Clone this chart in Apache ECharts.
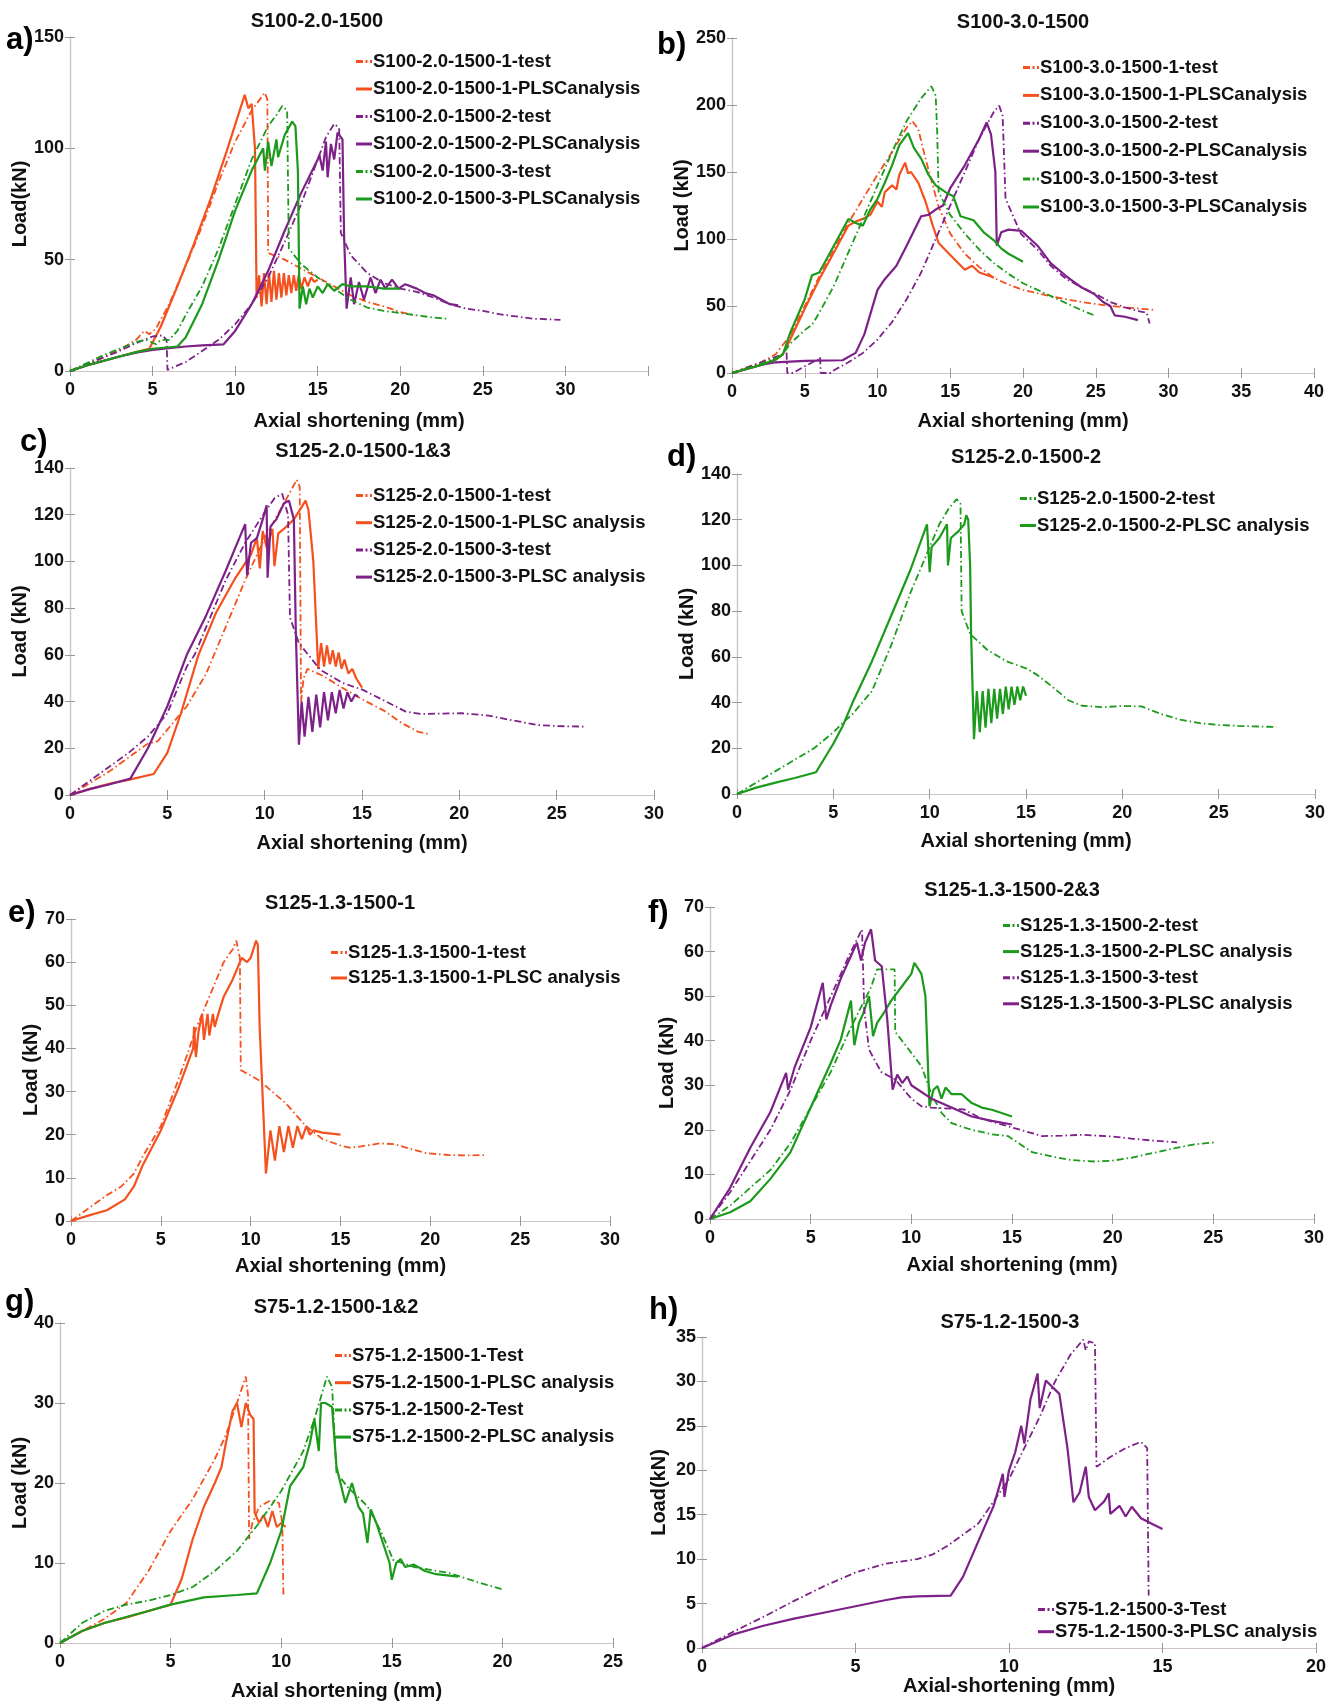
<!DOCTYPE html>
<html>
<head>
<meta charset="utf-8">
<script src="https://cdn.jsdelivr.net/npm/echarts@6/dist/echarts.min.js"></script>
<style>
  html, body { margin: 0; padding: 0; background: #fff; }
  #main { width: 1341px; height: 1707px; }
</style>
</head>
<body>
<div id="main"></div>
<script>
// ---- data: [axial shortening (mm), load (kN)] ----
// a) S100-2.0-1500
const aTest1 = [[0,0],[1,3],[2,6],[3,9.5],[4,14],[4.5,18],[4.8,16.5],[5.2,19],[6,30],[7,47],[8,65],[9,85],[10,103],[11,117],[11.5,122],[11.8,125],[11.95,122],[12.0,53],[13,50],[14,46],[15,42],[16,38],[17,34],[18,31],[19,29],[20,26.5],[20.9,25]];
const aFea1 = [[0,0],[1,2.5],[2,4.5],[3,6.5],[4,8.5],[4.8,10],[5.5,20],[6.5,38],[7.5,57],[8.5,77],[9.5,99],[10.58,124],[10.8,118],[11.0,120],[11.2,100],[11.3,33],[11.45,43],[11.6,29],[11.75,44],[11.9,30],[12.05,44],[12.2,31],[12.35,45],[12.5,32],[12.65,44],[12.8,33],[12.95,44],[13.1,34],[13.25,43],[13.4,35],[13.55,43],[13.7,36],[13.85,43],[14.0,37],[14.2,42],[14.4,38],[14.6,42],[14.8,40],[15,41]];
const aTest2 = [[0,0],[1,3],[2,6],[3,9],[4,12.5],[5,15.5],[5.6,16],[5.85,14],[5.9,0.5],[6,0],[7,4],[8,9],[9,14],[10,21],[11,30],[12,42],[13,58],[14,75],[15,95],[15.5,105],[16,111],[16.3,109],[16.4,62],[17,52],[18,44],[19,39.5],[20,37],[21,35.5],[22,33],[23,30],[24,28],[25,27],[26,25.5],[27,24.5],[28,23.5],[29.7,23]];
const aFea2 = [[0,0],[1,2.5],[2,4.5],[3,6.5],[4,8.2],[5,9.5],[6,10.3],[7,11],[8,11.5],[9.3,12],[10,18],[11,30],[12,45],[13,63],[14,80],[15,95],[15.1,97],[15.3,90],[15.5,103],[15.6,87],[15.8,102],[16.0,95],[16.2,107],[16.5,104],[16.6,60],[16.75,28],[17.0,42],[17.2,30],[17.5,40],[17.8,32],[18.2,42],[18.5,35],[18.8,41],[19.1,37],[19.5,41],[19.9,37],[20.3,39],[21,37],[21.5,35],[22,34],[22.5,32],[23,30],[23.5,29.5]];
const aTest3 = [[0,0],[1,3.5],[2,7],[3,10],[4,13],[4.6,14],[5.2,12],[5.5,14],[6,14],[6.5,18],[7,25],[8,38],[9,55],[10,75],[11,95],[12,110],[12.5,115],[12.85,119],[13.15,117],[13.25,55],[14,48],[15,42],[16,37],[17,32],[18,28.5],[19,27],[20,26],[21,25],[22,24],[22.8,23.5]];
const aFea3 = [[0,0],[1,2.5],[2,4.5],[3,6.5],[4,8.5],[5,10],[6.5,11],[7,15],[8,30],[9,50],[10,72],[11,90],[11.7,100],[11.8,90],[12.0,103],[12.2,92],[12.5,104],[12.6,96],[13.0,106],[13.45,112],[13.65,110],[13.8,90],[13.9,28],[14.1,38],[14.3,30],[14.5,37],[14.7,33],[15,38],[15.3,35],[15.6,39],[16,36],[16.5,39],[17,38],[18,38],[19,37],[20,37]];

// b) S100-3.0-1500
const bTest1 = [[0,0],[1,4],[2,8],[3,14],[4,28],[5,50],[6,72],[7,92],[8,112],[9,130],[10,148],[11,165],[12,183],[12.4,188],[12.8,182],[13.3,160],[14.2,124],[15,104],[16,89],[17,79],[18,71],[19,66],[20,62],[22,57],[24,53],[26,50],[28,48],[29.1,47]];
const bFea1 = [[0,0],[1,3],[2,6],[3,10],[3.5,14],[4,25],[5,48],[6,70],[7,90],[8,110],[8.5,113],[9,115],[9.5,118],[10,128],[10.3,124],[10.5,135],[11,140],[11.3,137],[11.5,148],[11.9,157],[12.1,149],[12.3,150],[12.8,142],[13.3,128],[13.8,110],[14.2,97],[15,88],[16,77],[16.5,80],[17,75],[17.8,72],[18,71]];
const bTest2 = [[0,0],[1,4],[2,8],[3,12],[3.75,15],[3.8,0],[4.2,0],[5,5],[5.9,10],[6.05,12],[6.1,0],[6.8,0],[7,2],[8,8],[9,15],[10,25],[11,38],[12,55],[13,75],[14,100],[15,125],[16,150],[17,175],[18,195],[18.36,199.5],[18.6,192],[18.8,130],[19.85,104],[21,92],[21.9,80],[23,70],[24,64],[24.9,59.5],[26,53],[27,49],[28,46],[28.5,45],[28.7,37]];
const bFea2 = [[0,0],[1,3],[2,6],[3,8],[5,9],[7.6,9.5],[8.5,15],[9.1,29],[10,62],[10.5,70],[10.9,75],[11.3,80],[12,95],[13,117],[13.5,118],[14,122],[14.5,125],[15,138],[16,155],[17,175],[17.5,187],[17.8,178],[18.1,150],[18.2,95],[18.5,105],[19,107],[19.9,106],[20.5,100],[21,95],[21.9,82],[23,72],[24,64],[24.9,59],[25.5,53],[26,50],[26.3,43],[27,42],[27.9,39.5]];
const bTest3 = [[0,0],[1,3.5],[2,7],[3,11],[3.5,14],[4,22],[5,32],[5.5,36],[6,45],[7,65],[8,90],[9,115],[10,140],[11,165],[12,188],[13,205],[13.7,214],[14.0,207],[14.1,180],[14.2,135],[15,118],[16,104],[17,92],[18,82],[19,74],[20,67],[21,62],[22,57],[23,52],[24,47],[24.9,43]];
const bFea3 = [[0,0],[1,3],[2,6],[3,10],[3.5,14],[4,30],[5,55],[5.5,73],[6,75],[7,95],[8,115],[8.5,112],[9,110],[9.5,122],[10,130],[10.5,142],[11,155],[11.5,170],[12.1,179],[12.5,168],[13,160],[13.5,148],[14,140],[14.8,134],[15.2,132],[15.7,117],[16.6,114],[17.3,105],[18,99],[18.5,93],[19,89],[20,83]];

// c) S125-2.0-1500-1&3
const cTest1 = [[0,0],[1,5],[2,10],[3,16],[4,22],[4.5,23],[5,28],[6,38],[7,52],[8,72],[9,92],[10,110],[11,125],[11.65,135],[11.8,132],[11.87,40],[12.0,50],[12.2,54],[13,51],[13.96,46],[15,41],[16.15,36],[17,31],[17.9,27],[18.5,26]];
const cFea1 = [[0,0],[1,2.5],[2,4.8],[3,6.5],[4.3,9],[5,18],[5.7,35],[6.6,60],[7.5,78],[8.5,93],[9.3,103],[9.6,110],[9.75,97],[9.9,113],[10.1,106],[10.4,114],[10.5,98],[10.7,112],[11,114],[11.5,118],[11.8,122],[12.1,126],[12.25,122],[12.5,100],[12.75,54],[12.9,65],[13.05,55],[13.2,64],[13.35,56],[13.5,62],[13.65,55],[13.8,61],[13.95,54],[14.1,58],[14.3,52],[14.5,54],[14.7,50],[15,46]];
const cTest3 = [[0,0],[1,6],[2,12],[3,18],[4,25],[5,35],[6,55],[6.4,60],[7,72],[8,92],[9,108],[10,121],[10.5,127],[10.9,129],[11.2,120],[11.3,76],[11.76,65],[12.86,53.6],[14,48],[15.05,45],[16,41],[17.25,35.7],[18,34.7],[20.1,35],[21.5,34],[22.7,32],[24,30],[25,29.5],[26.4,29.3]];
const cFea3 = [[0,0],[1,2.5],[2,4.5],[3.1,7],[4,20],[5,38],[6,60],[7,77],[8,96],[8.8,112],[9.0,116],[9.1,94],[9.3,108],[9.6,110],[9.9,118],[10.1,124],[10.15,93],[10.3,115],[10.6,118],[11,125],[11.25,126],[11.5,118],[11.6,70],[11.76,21.5],[11.9,40],[12.05,25],[12.25,42],[12.45,27],[12.65,43],[12.85,29],[13.05,44],[13.25,32],[13.45,44],[13.65,35],[13.85,45],[14.05,37],[14.25,44],[14.45,40],[14.65,43],[14.8,42]];

// d) S125-2.0-1500-2
const dTest2 = [[0,0],[1,5],[2,10],[3,15],[4,20],[5,27],[5.6,32],[6,35],[7,45],[8,65],[9,88],[10,108],[10.5,118],[11,125],[11.4,129],[11.6,127],[11.66,80],[12.1,70],[13,63],[14,58],[15,55],[15.6,52],[16.5,46],[17.2,41],[17.9,38.6],[19,38],[20,38.5],[21,38.3],[22,35],[23,32.5],[24,31],[25,30.2],[26,29.8],[28,29.3]];
const dFea2 = [[0,0],[1,2.8],[2,5],[3,7],[4.1,9.5],[5,22],[5.5,30],[6,40],[7,58],[8,78],[9,98],[9.86,118],[10.0,97],[10.1,108],[10.5,112],[10.9,118],[10.95,100],[11.1,112],[11.5,115],[11.8,118],[11.9,122],[12.0,120],[12.1,100],[12.15,70],[12.3,24],[12.45,45],[12.6,27],[12.75,45],[12.9,29],[13.05,46],[13.2,31],[13.35,46],[13.5,33],[13.65,46],[13.8,35],[13.95,47],[14.1,37],[14.25,47],[14.4,39],[14.55,47],[14.7,41],[14.85,47],[15,43]];

// e) S125-1.3-1500-1
const eTest1 = [[0,0],[1,3],[2,6],[2.8,8],[3.5,11],[4,15],[5,22],[6,33],[7,45],[8,55],[8.5,60],[9,63],[9.2,65],[9.4,61],[9.45,35],[10.5,32.5],[11.95,27.3],[13.1,21.9],[14,19],[15,17.5],[15.5,17],[16,17.2],[17.2,18],[18,17.8],[19,16.6],[19.8,15.7],[21,15.3],[22,15.2],[23.1,15.3]];
const eFea1 = [[0,0],[1,1.3],[2,2.5],[3,5],[3.5,8],[4,13],[5,21],[6,31],[6.8,40],[6.85,45],[6.95,38],[7.1,44],[7.3,48],[7.4,42],[7.6,48],[7.7,43],[7.9,48],[8.0,45],[8.2,48],[8.5,52],[9,56],[9.5,61],[9.8,60],[10,61],[10.3,65],[10.4,64],[10.5,45],[10.85,11],[11.1,21],[11.35,14],[11.6,22],[11.85,16],[12.1,22],[12.35,17],[12.6,22],[12.85,19],[13.1,22],[13.3,20],[13.5,21],[14,20.5],[15,20]];

// f) S125-1.3-1500-2&3
const fTest2 = [[0,0],[1,3],[2,7],[3,11],[4,17],[5,25],[6,33],[7,43],[8,52],[8.3,56],[9.17,56],[9.2,42],[10.5,34.3],[11,28],[11.5,23.8],[12,21.5],[13,20],[14,19],[14.8,18.6],[16,15],[17,14],[18,13.2],[19.1,12.9],[20,13.1],[21,13.8],[22,14.8],[23,15.8],[24,16.7],[25.1,17.2]];
const fFea2 = [[0,0],[1,1.5],[2,4],[3,9],[4,15],[5,25],[6,35],[6.5,40.3],[7.0,49],[7.17,39],[7.4,44],[7.6,46],[7.9,50],[8.1,41],[8.3,44],[8.6,46],[9,49],[9.5,52],[10,55],[10.15,57.5],[10.5,55],[10.7,50],[10.9,25.3],[11.1,29],[11.3,29.8],[11.5,27],[11.7,29.5],[12,28],[12.5,28],[13,26],[13.5,25],[14,24.5],[15,23]];
const fTest3 = [[0,0],[1,6],[2,13],[3,20],[4,29],[5,40],[6,50],[7,60],[7.55,65],[7.66,47],[7.9,38],[8.5,33],[9.2,31.3],[10,27],[10.5,25.3],[11,25],[12.6,24.6],[13.5,22.5],[14.8,20.8],[16.5,18.6],[17.5,18.7],[18.5,18.9],[20,18.5],[21,18],[22,17.6],[23.2,17.2]];
const fFea3 = [[0,0],[1,7],[2,16],[3,24],[3.78,32.8],[3.88,29],[4.2,34],[5,43],[5.6,53],[5.78,44.8],[6,48],[6.5,54],[7,59],[7.3,62],[7.5,58],[7.7,62],[8.0,65],[8.2,58],[8.53,56.7],[8.8,45],[9.07,29],[9.3,32.4],[9.55,30.5],[9.8,32],[10,30],[11,27],[12,25],[13,23],[14,22],[15,21.2]];

// g) S75-1.2-1500-1&2
const gTest1 = [[0,0],[1,1.5],[2,3],[3,5],[4,9],[5,14],[6,18],[7,23],[7.5,26],[8,30],[8.4,33.3],[8.5,31],[8.55,13],[8.7,15],[9,17],[9.5,17.8],[9.9,17.5],[10.05,15],[10.1,6]];
const gFea1 = [[0,0],[1,1.5],[2,2.5],[3,3.2],[4,4],[5,4.8],[5.5,8],[6,13],[6.5,17],[7,20],[7.3,22],[7.5,25],[7.8,29],[8,30],[8.2,27],[8.4,30],[8.6,28.5],[8.75,28],[8.8,16.3],[9,15],[9.2,16],[9.4,14.5],[9.6,16.5],[9.8,14.5],[10,15],[10.2,14.5]];
const gTest2 = [[0,0],[1,2.5],[2,4],[3,4.8],[4,5.3],[5,6],[6,7],[7,9],[8,11.5],[9,15],[10,19],[11,24],[11.5,28],[12.07,33.3],[12.3,32],[12.5,21.3],[13,19.5],[13.9,17.1],[14.5,14],[15.06,10.4],[16,9.5],[17.6,8.75],[19,7.5],[20,6.7]];
const gFea2 = [[0,0],[1,1.5],[2,2.5],[4,4],[5,4.8],[6.5,5.7],[8,6],[8.9,6.2],[9.5,10],[10,14],[10.4,19.6],[11,22],[11.3,25],[11.5,28],[11.7,24],[11.8,30],[12,30],[12.3,29.5],[12.5,22],[12.9,17.5],[13.2,20],[13.5,17],[13.7,16.2],[13.9,12.5],[14.05,16.7],[14.3,15],[14.6,12.5],[14.9,10],[15,7.9],[15.2,10],[15.4,10.5],[15.6,9.5],[16,9.8],[16.5,9],[17,8.6],[18,8.3]];

// h) S75-1.2-1500-3
const hTest3 = [[0,0],[1,1.8],[2,3.5],[3,5.3],[4,7],[5,8.5],[6,9.5],[7,10],[7.5,10.5],[8,11.5],[9,14],[10,19],[11,26],[11.5,30],[12,33],[12.42,34.7],[12.5,33.5],[12.6,34.5],[12.8,34.3],[12.85,20.4],[13.3,21.5],[13.8,22.5],[14.3,23.2],[14.5,22.5],[14.55,5.9]];
const hFea3 = [[0,0],[1,1.5],[2,2.5],[3,3.3],[4,4],[5,4.7],[6,5.4],[6.5,5.7],[7,5.8],[8.1,5.9],[8.5,8],[9,12],[9.5,16],[9.8,19.6],[9.85,17],[10,20],[10.2,22],[10.4,25],[10.5,23],[10.7,28],[10.93,30.9],[11,27],[11.2,30.1],[11.64,28.6],[11.9,22.6],[12.1,16.4],[12.3,17.5],[12.5,20.4],[12.6,17],[12.8,15.5],[13.1,16.5],[13.25,17.4],[13.3,15.1],[13.6,16],[13.8,14.8],[14,15.9],[14.3,14.6],[14.7,13.9],[15,13.4]];

// ---- styling ----
const FONT = "'Liberation Sans', Arial, sans-serif";
const ORANGE = '#f4511e', GREEN = '#1b9a1b', PURPLE = '#7d2189';
const DASHDOT = [7, 3, 1.5, 3];
const BOX = '#cfc3c3';
// legend samples drawn as little paths (solid bar / dash-dot)
const ICON_SOLID = 'path://M0,0H16V3H0Z';
const ICON_DASHDOT = 'path://M0,0H7V3H0Z M9.5,0H11.5V3H9.5Z M14,0H16V3H14Z';

function s(name, data, color, test) {
  return { name, data, color, test };
}

// box = [left, top, right, bottom] in px
const panels = [
  { box: [70, 37, 648, 371], x: [0, 35, 5], hideX: 35, y: [0, 150, 50], yName: 'Load(kN)', yGap: 38, xName: 'Axial shortening (mm)', xGap: 40,
    title: 'S100-2.0-1500', tPos: [317, 21], letter: 'a)', lPos: [6, 40], leg: [356, 52, 27],
    lines: [s('S100-2.0-1500-1-test', aTest1, ORANGE, true), s('S100-2.0-1500-1-PLSCanalysis', aFea1, ORANGE),
            s('S100-2.0-1500-2-test', aTest2, PURPLE, true), s('S100-2.0-1500-2-PLSCanalysis', aFea2, PURPLE),
            s('S100-2.0-1500-3-test', aTest3, GREEN, true), s('S100-2.0-1500-3-PLSCanalysis', aFea3, GREEN)] },
  { box: [732, 38, 1314, 373], x: [0, 40, 5], y: [0, 250, 50], yName: 'Load (kN)', yGap: 39, xName: 'Axial shortening (mm)', xGap: 38,
    title: 'S100-3.0-1500', tPos: [1023, 22], letter: 'b)', lPos: [657, 45], leg: [1023, 58, 27.4],
    lines: [s('S100-3.0-1500-1-test', bTest1, ORANGE, true), s('S100-3.0-1500-1-PLSCanalysis', bFea1, ORANGE),
            s('S100-3.0-1500-2-test', bTest2, PURPLE, true), s('S100-3.0-1500-2-PLSCanalysis', bFea2, PURPLE),
            s('S100-3.0-1500-3-test', bTest3, GREEN, true), s('S100-3.0-1500-3-PLSCanalysis', bFea3, GREEN)] },
  { box: [70, 468, 654, 795], x: [0, 30, 5], y: [0, 140, 20], yName: 'Load (kN)', yGap: 40, xName: 'Axial shortening (mm)', xGap: 38,
    title: 'S125-2.0-1500-1&3', tPos: [363, 451], letter: 'c)', lPos: [20, 442], leg: [356, 486, 26.7],
    lines: [s('S125-2.0-1500-1-test', cTest1, ORANGE, true), s('S125-2.0-1500-1-PLSC analysis', cFea1, ORANGE),
            s('S125-2.0-1500-3-test', cTest3, PURPLE, true), s('S125-2.0-1500-3-PLSC analysis', cFea3, PURPLE)] },
  { box: [737, 474, 1315, 794], x: [0, 30, 5], y: [0, 140, 20], yName: 'Load (kN)', yGap: 36, xName: 'Axial shortening (mm)', xGap: 37,
    title: 'S125-2.0-1500-2', tPos: [1026, 457], letter: 'd)', lPos: [667, 457], leg: [1020, 489, 26.5],
    lines: [s('S125-2.0-1500-2-test', dTest2, GREEN, true), s('S125-2.0-1500-2-PLSC analysis', dFea2, GREEN)] },
  { box: [71, 919, 610, 1221], x: [0, 30, 5], y: [0, 70, 10], yName: 'Load (kN)', yGap: 27, xName: 'Axial shortening (mm)', xGap: 35,
    title: 'S125-1.3-1500-1', tPos: [340, 903], letter: 'e)', lPos: [8, 913], leg: [331, 943, 25],
    lines: [s('S125-1.3-1500-1-test', eTest1, ORANGE, true), s('S125-1.3-1500-1-PLSC analysis', eFea1, ORANGE)] },
  { box: [710, 907, 1314, 1219], x: [0, 30, 5], y: [0, 70, 10], yName: 'Load (kN)', yGap: 33, xName: 'Axial shortening (mm)', xGap: 36,
    title: 'S125-1.3-1500-2&3', tPos: [1012, 890], letter: 'f)', lPos: [648, 913], leg: [1003, 916, 25.6],
    lines: [s('S125-1.3-1500-2-test', fTest2, GREEN, true), s('S125-1.3-1500-2-PLSC analysis', fFea2, GREEN),
            s('S125-1.3-1500-3-test', fTest3, PURPLE, true), s('S125-1.3-1500-3-PLSC analysis', fFea3, PURPLE)] },
  { box: [60, 1323, 613, 1643], x: [0, 25, 5], y: [0, 40, 10], yName: 'Load (kN)', yGap: 28, xName: 'Axial shortening (mm)', xGap: 38,
    title: 'S75-1.2-1500-1&2', tPos: [336, 1307], letter: 'g)', lPos: [5, 1302], leg: [335, 1346, 26.7],
    lines: [s('S75-1.2-1500-1-Test', gTest1, ORANGE, true), s('S75-1.2-1500-1-PLSC analysis', gFea1, ORANGE),
            s('S75-1.2-1500-2-Test', gTest2, GREEN, true), s('S75-1.2-1500-2-PLSC analysis', gFea2, GREEN)] },
  { box: [702, 1337, 1316, 1648], x: [0, 20, 5], y: [0, 35, 5], yName: 'Load(kN)', yGap: 33, xName: 'Axial-shortening (mm)', xGap: 17,
    title: 'S75-1.2-1500-3', tPos: [1010, 1322], letter: 'h)', lPos: [649, 1310], leg: [1038, 1600, 21.7],
    lines: [s('S75-1.2-1500-3-Test', hTest3, PURPLE, true), s('S75-1.2-1500-3-PLSC analysis', hFea3, PURPLE)] }
];

const labelStyle = { fontFamily: FONT, fontWeight: 'bold', fontSize: 18, color: '#111' };
const nameStyle = { fontFamily: FONT, fontWeight: 'bold', fontSize: 20, color: '#111' };
const option = { animation: false, backgroundColor: '#fff', grid: [], xAxis: [], yAxis: [], series: [], legend: [], graphic: [] };

panels.forEach((p, i) => {
  const [l, t, r, b] = p.box;
  option.grid.push({ left: l, top: t, width: r - l, height: b - t });
  const tick = { show: true, inside: true, length: 5, lineStyle: { color: '#999' } };
  const line = { show: true, lineStyle: { color: BOX, width: 1.2 } };
  option.xAxis.push({
    type: 'value', gridIndex: i, min: p.x[0], max: p.x[1], interval: p.x[2],
    axisLine: line, axisTick: tick, splitLine: { show: false },
    axisLabel: Object.assign({ margin: 10, formatter: v => (v === p.hideX ? '' : v) }, labelStyle),
    name: p.xName, nameLocation: 'middle', nameGap: p.xGap, nameTextStyle: nameStyle
  });
  option.xAxis.push({
    type: 'value', gridIndex: i, position: 'top', min: p.x[0], max: p.x[1], interval: p.x[2],
    axisLine: line, axisTick: tick, axisLabel: { show: false }, splitLine: { show: false }
  });
  option.yAxis.push({
    type: 'value', gridIndex: i, min: p.y[0], max: p.y[1], interval: p.y[2],
    axisLine: line, axisTick: tick, splitLine: { show: false },
    axisLabel: Object.assign({ margin: 6 }, labelStyle),
    name: p.yName, nameLocation: 'middle', nameGap: p.yGap, nameTextStyle: nameStyle
  });
  option.yAxis.push({
    type: 'value', gridIndex: i, position: 'right', min: p.y[0], max: p.y[1], interval: p.y[2],
    axisLine: line, axisTick: tick, axisLabel: { show: false }, splitLine: { show: false }
  });

  p.lines.forEach(ln => {
    option.series.push({
      type: 'line', name: ln.name, data: ln.data,
      xAxisIndex: 2 * i, yAxisIndex: 2 * i,
      symbol: 'none', showSymbol: false, clip: true,
      lineStyle: { color: ln.color, width: ln.test ? 1.8 : 2.2, type: ln.test ? DASHDOT : 'solid' },
      itemStyle: { color: ln.color }
    });
  });

  const fs = 18.5;
  option.legend.push({
    orient: 'vertical', left: p.leg[0], top: p.leg[1], padding: 0,
    itemWidth: 16, itemHeight: 3, itemGap: p.leg[2] - fs,
    selectedMode: false,
    data: p.lines.map(ln => ({ name: ln.name, icon: ln.test ? ICON_DASHDOT : ICON_SOLID })),
    textStyle: { fontFamily: FONT, fontWeight: 'bold', fontSize: fs, color: '#111', padding: [0, 0, 0, -4] }
  });

  option.graphic.push({
    type: 'text', x: p.tPos[0], y: p.tPos[1],
    style: { text: p.title, fill: '#111', font: 'bold 20px ' + FONT, textAlign: 'center', textVerticalAlign: 'middle' }
  });
  option.graphic.push({
    type: 'text', x: p.lPos[0], y: p.lPos[1],
    style: { text: p.letter, fill: '#000', font: 'bold 31px ' + FONT, textAlign: 'left', textVerticalAlign: 'middle' }
  });
});

const chart = echarts.init(document.getElementById('main'));
chart.setOption(option);
</script>
</body>
</html>
